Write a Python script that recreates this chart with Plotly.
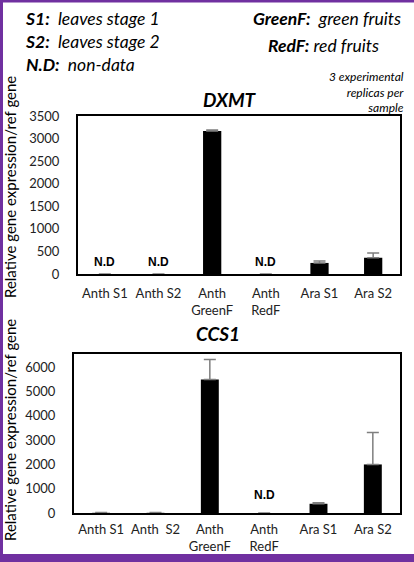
import plotly.graph_objects as go

categories_top = ["Anth S1", "Anth S2", "Anth<br>GreenF", "Anth<br>RedF", "Ara S1", "Ara S2"]
categories_bot = ["Anth S1", "Anth  S2", "Anth<br>GreenF", "Anth<br>RedF", "Ara S1", "Ara S2"]

dxmt_values = [0, 0, 3170, 0, 245, 360]
dxmt_errors = [0, 0, 20, 0, 45, 105]
dxmt_nd = [True, True, False, True, False, False]

ccs1_values = [8, 8, 5500, 0, 380, 2000]
ccs1_errors = [10, 10, 820, 0, 40, 1320]
ccs1_nd = [False, False, False, True, False, False]

dxmt_ticks = [0, 500, 1000, 1500, 2000, 2500, 3000, 3500]
ccs1_ticks = [0, 1000, 2000, 3000, 4000, 5000, 6000]

W, H = 414, 562
FONT = "Lato"
PURPLE = "#7030A0"

def px_x(v):
    return v / W

def px_y(v):
    return 1 - v / H

fig = go.Figure()

fig.add_trace(go.Bar(
    x=categories_top, y=dxmt_values, xaxis="x", yaxis="y",
    marker=dict(color="black", line=dict(width=0)), width=0.34,
    error_y=dict(type="data", symmetric=False, array=dxmt_errors,
                 arrayminus=[0] * 6, color="#7f7f7f", thickness=1.5, width=6),
    showlegend=False, hoverinfo="skip",
))
fig.add_trace(go.Bar(
    x=categories_bot, y=ccs1_values, xaxis="x2", yaxis="y2",
    marker=dict(color="black", line=dict(width=0)), width=0.33,
    error_y=dict(type="data", symmetric=False, array=ccs1_errors,
                 arrayminus=[0] * 6, color="#7f7f7f", thickness=1.5, width=6),
    showlegend=False, hoverinfo="skip",
))

axis_common = dict(showline=True, mirror=True, linecolor="black", linewidth=2,
                   showgrid=False, zeroline=False, fixedrange=True, automargin=False)
tickf = dict(family=FONT, size=13, color="#222")

fig.update_layout(
    width=W, height=H,
    margin=dict(l=0, r=0, t=0, b=0, autoexpand=False),
    plot_bgcolor="white", paper_bgcolor="white",
    xaxis=dict(domain=[px_x(78), px_x(400)], anchor="y", ticks="outside",
               ticklen=6, tickcolor="rgba(0,0,0,0)", tickfont=tickf, **axis_common),
    yaxis=dict(domain=[px_y(274), px_y(116)], anchor="x", range=[0, 3500],
               tickvals=dxmt_ticks, ticks="outside", ticklen=14,
               tickcolor="rgba(0,0,0,0)", tickfont=tickf, **axis_common),
    xaxis2=dict(domain=[px_x(74), px_x(400)], anchor="y2", ticks="outside",
                ticklen=3, tickcolor="rgba(0,0,0,0)", tickfont=tickf, **axis_common),
    yaxis2=dict(domain=[px_y(513), px_y(354)], anchor="x2", range=[0, 6550],
                tickvals=ccs1_ticks, ticks="outside", ticklen=14,
                tickcolor="rgba(0,0,0,0)", tickfont=tickf, **axis_common),
)

ndfont = dict(family="Liberation Sans", size=12, color="black")
ann = []
for cat, nd in zip(categories_top, dxmt_nd):
    if nd:
        ann.append(dict(x=cat, y=0, xref="x", yref="y", yanchor="bottom", yshift=3,
                        text="<b>N.D</b>", showarrow=False, font=ndfont))
for cat, nd in zip(categories_bot, ccs1_nd):
    if nd:
        ann.append(dict(x=cat, y=0, xref="x2", yref="y2", yanchor="bottom", yshift=9,
                        text="<b>N.D</b>", showarrow=False, font=ndfont))

def t(text, x, y, size, xanchor="left", **kw):
    return dict(text=text, x=px_x(x), y=px_y(y), xref="paper", yref="paper",
                xanchor=xanchor, yanchor="middle", showarrow=False,
                font=dict(family=FONT, size=size, color="black"), **kw)

ann += [
    t("<b><i>S1:</i></b><i>  leaves stage 1</i><br>"
      "<b><i>S2:</i></b><i>  leaves stage 2</i><br>"
      "<b><i>N.D:</i></b><i>  non-data</i>", 23, 41, 17.5, align="left"),
    t("<b><i>GreenF:</i></b><i>  green fruits</i>", 403, 18, 17.5, xanchor="right"),
    t("<b><i>RedF:</i></b><i> red fruits</i>", 381, 45, 17.5, xanchor="right"),
    t("<i>3 experimental<br>replicas per<br>sample</i>", 406, 92, 12, xanchor="right",
      align="right"),
    t("<b><i>DXMT</i></b>", 230, 100, 19, xanchor="center"),
    t("<b><i>CCS1</i></b>", 218, 333, 19, xanchor="center"),
    dict(text="Relative gene expression/ref gene", x=px_x(10), y=px_y(187),
         xref="paper", yref="paper", xanchor="center", yanchor="middle",
         textangle=-90, showarrow=False, font=dict(family=FONT, size=15, color="black")),
    dict(text="Relative gene expression/ref gene", x=px_x(10), y=px_y(430),
         xref="paper", yref="paper", xanchor="center", yanchor="middle",
         textangle=-90, showarrow=False, font=dict(family=FONT, size=15, color="black")),
]
fig.update_layout(annotations=ann)

shapes = [
    dict(type="rect", xref="paper", yref="paper", x0=0, x1=1, y0=px_y(2.5), y1=1,
         fillcolor=PURPLE, line=dict(width=0)),
    dict(type="rect", xref="paper", yref="paper", x0=0, x1=px_x(3), y0=0, y1=1,
         fillcolor=PURPLE, line=dict(width=0)),
    dict(type="rect", xref="paper", yref="paper", x0=0, x1=1, y0=0, y1=px_y(554),
         fillcolor=PURPLE, line=dict(width=0)),
]
fig.update_layout(shapes=shapes)

post = (
    "var s=document.createElement('style');"
    "s.textContent='html,body{margin:0!important;padding:0!important;overflow:hidden;}';"
    "document.head.appendChild(s);"
    "window.scrollTo(0,0);"
)
fig.write_html("out.html", config={"displayModeBar": False, "staticPlot": True},
               post_script=post)
